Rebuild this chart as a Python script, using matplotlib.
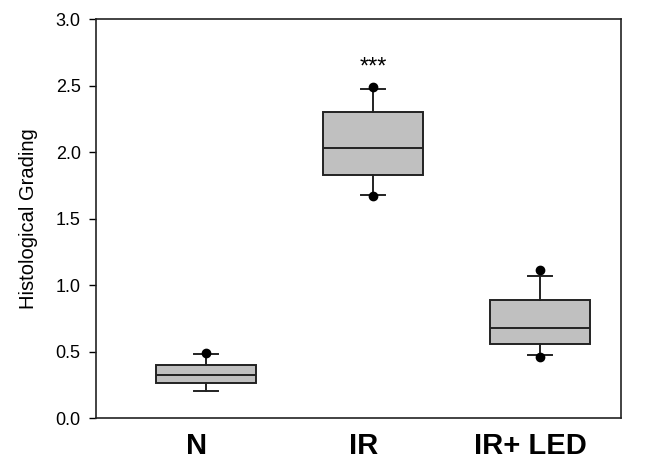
import matplotlib
matplotlib.use("Agg")
import matplotlib.pyplot as plt
from matplotlib.transforms import ScaledTranslation

plt.rcParams['font.family'] = ['Liberation Sans', 'DejaVu Sans']

groups = ['N', 'IR', 'IR+ LED']
q1 = [0.26, 1.83, 0.56]
med = [0.32, 2.03, 0.68]
q3 = [0.40, 2.30, 0.89]
whislo = [0.20, 1.68, 0.47]
whishi = [0.48, 2.47, 1.07]
fliers = [[0.49], [1.67, 2.49], [0.46, 1.11]]
signif = ['', '***', '']

stats = []
for i, g in enumerate(groups):
    stats.append(dict(label=g, q1=q1[i], med=med[i], q3=q3[i],
                      whislo=whislo[i], whishi=whishi[i], fliers=fliers[i]))

fig = plt.figure(figsize=(6.49, 4.61), dpi=100)
ax = fig.add_axes([96 / 649, 1 - 418 / 461, 525 / 649, 399 / 461])

pos = [1, 2, 3]
ax.bxp(stats, positions=pos, widths=0.6, patch_artist=True, capwidths=0.14,
       boxprops=dict(facecolor='#c0c0c0', edgecolor='#222222', linewidth=1.4),
       medianprops=dict(color='#222222', linewidth=1.4),
       whiskerprops=dict(color='#222222', linewidth=1.4),
       capprops=dict(color='#222222', linewidth=1.4),
       flierprops=dict(marker='o', markerfacecolor='black', markeredgecolor='black',
                       markersize=6))

# significance stars above the whisker
for i, s in enumerate(signif):
    if s:
        ax.text(pos[i], whishi[i] + 0.12, s, ha='center', va='baseline', fontsize=17)

ax.set_xlim(0.341, 3.485)
ax.set_ylim(0, 3.0)
ax.set_yticks([0.0, 0.5, 1.0, 1.5, 2.0, 2.5, 3.0])
ax.set_yticklabels(['0.0', '0.5', '1.0', '1.5', '2.0', '2.5', '3.0'], fontsize=13)
ax.set_xticks(pos)
ax.set_xticklabels(groups, fontsize=21, fontweight='bold')
ax.tick_params(axis='x', length=0, pad=10)
ax.tick_params(axis='y', direction='out', length=5, width=1, pad=6)
ax.set_ylabel('Histological Grading', fontsize=14.5, labelpad=13)
for sp in ax.spines.values():
    sp.set_linewidth(1.2)
    sp.set_color('#222222')

shift = ScaledTranslation(-7 / 72, 0, fig.dpi_scale_trans)
for lab in ax.get_xticklabels():
    lab.set_transform(lab.get_transform() + shift)

fig.savefig('out.png', dpi=100)
